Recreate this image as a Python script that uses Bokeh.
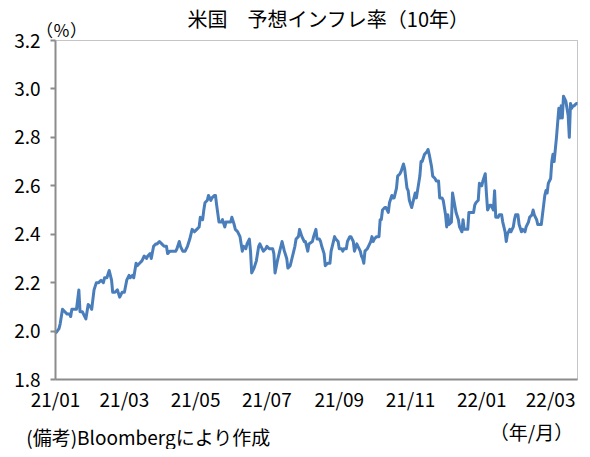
import pandas as pd
from bokeh.plotting import figure
from bokeh.models import (Range1d, FixedTicker, DatetimeTickFormatter, ColumnDataSource,
                          NumeralTickFormatter, Label, BoxAnnotation)
from bokeh.embed import file_html
from bokeh.resources import INLINE

title_text = "米国　予想インフレ率（10年）"
unit_label = "（％）"
source_note = "(備考)Bloombergにより作成"
x_unit_label = "（年/月）"

y_ticks = [1.8, 2.0, 2.2, 2.4, 2.6, 2.8, 3.0, 3.2]
x_tick_dates = ["2021-01-04", "2021-03-04", "2021-05-04", "2021-07-04",
                "2021-09-04", "2021-11-04", "2022-01-04", "2022-03-04"]
x_start, x_end = "2021-01-04", "2022-03-27"

dates = [
    "2021-01-04", "2021-01-07", "2021-01-08", "2021-01-10", "2021-01-12", "2021-01-14", "2021-01-16", "2021-01-17",
    "2021-01-18", "2021-01-20", "2021-01-22", "2021-01-24", "2021-01-25", "2021-01-27", "2021-01-28", "2021-01-30",
    "2021-02-01", "2021-02-03", "2021-02-04", "2021-02-06", "2021-02-08", "2021-02-10", "2021-02-12", "2021-02-14",
    "2021-02-15", "2021-02-17", "2021-02-19", "2021-02-21", "2021-02-22", "2021-02-24", "2021-02-26", "2021-02-28",
    "2021-03-02", "2021-03-04", "2021-03-06", "2021-03-08", "2021-03-09", "2021-03-11", "2021-03-12", "2021-03-14",
    "2021-03-15", "2021-03-17", "2021-03-19", "2021-03-21", "2021-03-23", "2021-03-24", "2021-03-26", "2021-03-27",
    "2021-03-29", "2021-03-31", "2021-04-01", "2021-04-03", "2021-04-05", "2021-04-07", "2021-04-09", "2021-04-10",
    "2021-04-12", "2021-04-14", "2021-04-15", "2021-04-17", "2021-04-18", "2021-04-20", "2021-04-21", "2021-04-23",
    "2021-04-25", "2021-04-27", "2021-04-29", "2021-05-01", "2021-05-03", "2021-05-05", "2021-05-07", "2021-05-08",
    "2021-05-10", "2021-05-11", "2021-05-12", "2021-05-14", "2021-05-15", "2021-05-17", "2021-05-18", "2021-05-20",
    "2021-05-21", "2021-05-22", "2021-05-24", "2021-05-26", "2021-05-27", "2021-05-29", "2021-05-30", "2021-06-01",
    "2021-06-03", "2021-06-04", "2021-06-06", "2021-06-07", "2021-06-09", "2021-06-11", "2021-06-12", "2021-06-13",
    "2021-06-14", "2021-06-16", "2021-06-17", "2021-06-19", "2021-06-20", "2021-06-21", "2021-06-23", "2021-06-25",
    "2021-06-27", "2021-06-28", "2021-06-29", "2021-07-01", "2021-07-03", "2021-07-04", "2021-07-06", "2021-07-09",
    "2021-07-10", "2021-07-11", "2021-07-13", "2021-07-15", "2021-07-17", "2021-07-18", "2021-07-19", "2021-07-21",
    "2021-07-22", "2021-07-24", "2021-07-26", "2021-07-28", "2021-07-29", "2021-07-31", "2021-08-01", "2021-08-03",
    "2021-08-05", "2021-08-06", "2021-08-08", "2021-08-09", "2021-08-12", "2021-08-13", "2021-08-15", "2021-08-16",
    "2021-08-18", "2021-08-19", "2021-08-20", "2021-08-22", "2021-08-23", "2021-08-25", "2021-08-27", "2021-08-28",
    "2021-08-29", "2021-08-31", "2021-09-01", "2021-09-03", "2021-09-04", "2021-09-06", "2021-09-07", "2021-09-08",
    "2021-09-10", "2021-09-11", "2021-09-13", "2021-09-14", "2021-09-16", "2021-09-17", "2021-09-19", "2021-09-20",
    "2021-09-22", "2021-09-23", "2021-09-24", "2021-09-25", "2021-09-26", "2021-09-28", "2021-09-29", "2021-10-01",
    "2021-10-02", "2021-10-03", "2021-10-04", "2021-10-06", "2021-10-08", "2021-10-09", "2021-10-10", "2021-10-11",
    "2021-10-13", "2021-10-14", "2021-10-16", "2021-10-17", "2021-10-19", "2021-10-20", "2021-10-21", "2021-10-23",
    "2021-10-24", "2021-10-26", "2021-10-27", "2021-10-29", "2021-10-30", "2021-11-01", "2021-11-02", "2021-11-03",
    "2021-11-05", "2021-11-06", "2021-11-08", "2021-11-09", "2021-11-11", "2021-11-12", "2021-11-13", "2021-11-14",
    "2021-11-16", "2021-11-18", "2021-11-19", "2021-11-20", "2021-11-22", "2021-11-23", "2021-11-25", "2021-11-26",
    "2021-11-28", "2021-11-29", "2021-12-01", "2021-12-02", "2021-12-04", "2021-12-05", "2021-12-06", "2021-12-07",
    "2021-12-09", "2021-12-10", "2021-12-13", "2021-12-15", "2021-12-16", "2021-12-18", "2021-12-19", "2021-12-20",
    "2021-12-22", "2021-12-23", "2021-12-24", "2021-12-26", "2021-12-28", "2021-12-29", "2021-12-30", "2022-01-01",
    "2022-01-02", "2022-01-04", "2022-01-05", "2022-01-07", "2022-01-08", "2022-01-09", "2022-01-11", "2022-01-12",
    "2022-01-14", "2022-01-15", "2022-01-16", "2022-01-18", "2022-01-19", "2022-01-21", "2022-01-22", "2022-01-24",
    "2022-01-25", "2022-01-26", "2022-01-28", "2022-01-29", "2022-01-31", "2022-02-01", "2022-02-02", "2022-02-04",
    "2022-02-05", "2022-02-07", "2022-02-08", "2022-02-10", "2022-02-11", "2022-02-13", "2022-02-14", "2022-02-16",
    "2022-02-17", "2022-02-18", "2022-02-20", "2022-02-21", "2022-02-23", "2022-02-24", "2022-02-26", "2022-02-27",
    "2022-02-28", "2022-03-01", "2022-03-02", "2022-03-04", "2022-03-05", "2022-03-06", "2022-03-07", "2022-03-08",
    "2022-03-09", "2022-03-10", "2022-03-11", "2022-03-12", "2022-03-13", "2022-03-14", "2022-03-15", "2022-03-16",
    "2022-03-17", "2022-03-19", "2022-03-20", "2022-03-21", "2022-03-22", "2022-03-23", "2022-03-24", "2022-03-26",
    "2022-03-27",
]

values = [
    1.99, 2.01, 2.03, 2.09, 2.08, 2.07, 2.07, 2.06,
    2.09, 2.09, 2.09, 2.17, 2.08, 2.08, 2.07, 2.05,
    2.11, 2.10, 2.09, 2.17, 2.20, 2.20, 2.21, 2.20,
    2.22, 2.22, 2.25, 2.21, 2.16, 2.16, 2.17, 2.14,
    2.16, 2.16, 2.21, 2.23, 2.22, 2.23, 2.22, 2.28,
    2.27, 2.28, 2.29, 2.31, 2.30, 2.31, 2.32, 2.30,
    2.35, 2.36, 2.36, 2.37, 2.36, 2.35, 2.35, 2.32,
    2.33, 2.33, 2.33, 2.33, 2.34, 2.37, 2.35, 2.33,
    2.33, 2.35, 2.38, 2.42, 2.41, 2.42, 2.43, 2.47,
    2.46, 2.50, 2.53, 2.54, 2.56, 2.54, 2.55, 2.56,
    2.56, 2.52, 2.45, 2.45, 2.46, 2.43, 2.45, 2.45,
    2.45, 2.47, 2.44, 2.42, 2.41, 2.39, 2.36, 2.33,
    2.35, 2.34, 2.36, 2.38, 2.33, 2.24, 2.26, 2.29,
    2.35, 2.36, 2.35, 2.33, 2.34, 2.35, 2.34, 2.34,
    2.32, 2.24, 2.29, 2.33, 2.37, 2.35, 2.33, 2.30,
    2.26, 2.27, 2.31, 2.35, 2.38, 2.39, 2.42, 2.39,
    2.37, 2.37, 2.33, 2.36, 2.37, 2.39, 2.42, 2.38,
    2.38, 2.37, 2.35, 2.32, 2.27, 2.28, 2.28, 2.33,
    2.35, 2.39, 2.38, 2.37, 2.34, 2.34, 2.33, 2.34,
    2.34, 2.37, 2.39, 2.39, 2.37, 2.33, 2.36, 2.35,
    2.33, 2.31, 2.30, 2.28, 2.33, 2.34, 2.35, 2.37,
    2.39, 2.37, 2.38, 2.39, 2.39, 2.46, 2.46, 2.50,
    2.51, 2.51, 2.49, 2.53, 2.56, 2.55, 2.55, 2.59,
    2.64, 2.65, 2.66, 2.69, 2.67, 2.59, 2.58, 2.54,
    2.51, 2.53, 2.57, 2.55, 2.61, 2.64, 2.70, 2.70,
    2.73, 2.74, 2.75, 2.73, 2.68, 2.64, 2.63, 2.62,
    2.62, 2.55, 2.55, 2.54, 2.48, 2.43, 2.48, 2.44,
    2.45, 2.57, 2.49, 2.46, 2.43, 2.41, 2.46, 2.42,
    2.42, 2.42, 2.49, 2.49, 2.49, 2.52, 2.53, 2.54,
    2.61, 2.60, 2.62, 2.65, 2.57, 2.50, 2.52, 2.52,
    2.50, 2.58, 2.47, 2.47, 2.48, 2.48, 2.45, 2.41,
    2.37, 2.40, 2.42, 2.41, 2.43, 2.46, 2.48, 2.48,
    2.44, 2.41, 2.42, 2.41, 2.43, 2.45, 2.47, 2.48,
    2.50, 2.48, 2.46, 2.44, 2.44, 2.44, 2.52, 2.56,
    2.58, 2.57, 2.61, 2.63, 2.70, 2.73, 2.70, 2.75,
    2.80, 2.86, 2.92, 2.88, 2.93, 2.88, 2.97, 2.96,
    2.95, 2.89, 2.80, 2.94, 2.92, 2.93, 2.93, 2.94,
    2.94,
]

FONT = "Noto Sans CJK JP"
LINE_COLOR = "#4a7ebb"
AXIS_COLOR = "#8c8c8c"
BORDER_COLOR = "#404040"

# layout (pixels): the frame covers the whole canvas; the chart box inside it spans
# BOX_L..BOX_R horizontally and BOX_T..BOX_B vertically (from the top-left corner).
W, H = 582, 449
BOX_L, BOX_R, BOX_T, BOX_B = 55, 577, 40, 379

t0 = pd.Timestamp(x_start).value / 1e6
t1 = pd.Timestamp(x_end).value / 1e6
ms_per_px = (t1 - t0) / (BOX_R - BOX_L)
x_lo, x_hi = t0 - BOX_L * ms_per_px, t1 + (W - BOX_R) * ms_per_px
v_per_px = (y_ticks[-1] - y_ticks[0]) / (BOX_B - BOX_T)
y_lo, y_hi = y_ticks[0] - (H - BOX_B) * v_per_px, y_ticks[-1] + BOX_T * v_per_px

source = ColumnDataSource(dict(date=pd.to_datetime(dates), value=values))

p = figure(
    width=W, height=H,
    x_axis_type="datetime",
    x_range=Range1d(start=x_lo, end=x_hi),
    y_range=Range1d(start=y_lo, end=y_hi),
    output_backend="svg", toolbar_location=None,
    min_border_left=0, min_border_right=0, min_border_top=0, min_border_bottom=0,
)
p.title_location = None
p.background_fill_color = "white"
p.border_fill_color = "white"
p.xgrid.visible = False
p.ygrid.visible = False
p.outline_line_color = None

# chart box border
p.add_layout(BoxAnnotation(left=t0, right=t1, bottom=y_ticks[0], top=y_ticks[-1],
                           fill_color=None, fill_alpha=0,
                           line_color=BORDER_COLOR, line_width=1, level="underlay"))

p.line("date", "value", source=source, line_color=LINE_COLOR, line_width=3, line_join="round")

# x axis, pinned at the lowest y tick
xa = p.xaxis[0]
xa.fixed_location = y_ticks[0]
xa.bounds = (t0, t1)
xa.ticker = FixedTicker(ticks=[pd.Timestamp(d).value / 1e6 for d in x_tick_dates])
fmt = "%y/%m"
xa.formatter = DatetimeTickFormatter(
    microseconds=fmt, milliseconds=fmt, seconds=fmt, minsec=fmt, minutes=fmt,
    hourmin=fmt, hours=fmt, days=fmt, months=fmt, years=fmt)
xa.axis_line_color = AXIS_COLOR
xa.axis_line_width = 2
xa.major_tick_out = 0
xa.major_tick_in = 0
xa.minor_tick_out = 0
xa.minor_tick_in = 0
xa.major_label_standoff = 5
xa.major_label_text_font = FONT
xa.major_label_text_font_size = "19px"
xa.major_label_text_color = "black"

# y axis, pinned at the first date
ya = p.yaxis[0]
ya.fixed_location = t0
ya.ticker = FixedTicker(ticks=y_ticks)
ya.bounds = (y_ticks[0], y_ticks[-1])
ya.formatter = NumeralTickFormatter(format="0.0")
ya.axis_line_color = AXIS_COLOR
ya.axis_line_width = 2
ya.major_tick_line_color = AXIS_COLOR
ya.major_tick_line_width = 2
ya.major_tick_out = 5
ya.major_tick_in = 0
ya.minor_tick_out = 0
ya.minor_tick_in = 0
ya.major_label_standoff = 10
ya.major_label_text_font = FONT
ya.major_label_text_font_size = "19px"
ya.major_label_text_color = "black"

# texts (screen px from the frame's lower-left corner)
def add_text(text, cx, cy_from_top, size):
    p.add_layout(Label(x=cx, y=H - cy_from_top, x_units="screen", y_units="screen", text=text,
                       text_align="center", text_baseline="middle",
                       text_font=FONT, text_font_size=size, text_color="black"))

add_text(title_text, 328, 17.5, "20px")
add_text(unit_label, 61, 29, "17px")
add_text(source_note, 148, 436, "19px")
add_text(x_unit_label, 531, 431, "19px")

open("out.html", "w").write(file_html(p, INLINE))
